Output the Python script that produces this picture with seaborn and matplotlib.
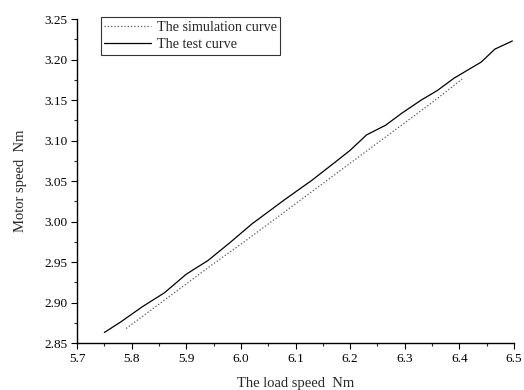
import pandas as pd
import numpy as np
import matplotlib
matplotlib.use('Agg')
import matplotlib.pyplot as plt
import seaborn as sns
from matplotlib.ticker import MultipleLocator, FormatStrFormatter

# data
test_x = [5.75, 5.78, 5.82, 5.86, 5.90, 5.94, 5.98, 6.02, 6.08, 6.13, 6.17, 6.20, 6.23,
          6.265, 6.295, 6.33, 6.36, 6.39, 6.44, 6.465, 6.497]
test_y = [2.863, 2.876, 2.895, 2.912, 2.935, 2.952, 2.974, 2.997, 3.027, 3.051, 3.072, 3.088, 3.107,
          3.119, 3.134, 3.150, 3.162, 3.177, 3.197, 3.213, 3.223]

sim_x = [5.79, 5.85, 5.90, 5.95, 6.00, 6.05, 6.10, 6.15, 6.20, 6.25, 6.30, 6.35, 6.405]
sim_y = [2.868, 2.898, 2.923, 2.948, 2.972, 2.997, 3.022, 3.047, 3.072, 3.097, 3.122, 3.147, 3.176]

sim = pd.DataFrame({'x': sim_x, 'y': sim_y, 'curve': 'The simulation curve'})
test = pd.DataFrame({'x': test_x, 'y': test_y, 'curve': 'The test curve'})

sns.set_style('ticks')
plt.rcParams['font.family'] = ['Liberation Serif', 'DejaVu Serif']
plt.rcParams['xtick.direction'] = 'out'
plt.rcParams['ytick.direction'] = 'out'

fig = plt.figure(figsize=(5.24, 3.90), dpi=100)
ax = fig.add_axes([0.147, 0.1205, 0.834, 0.8305])

sns.lineplot(data=sim, x='x', y='y', ax=ax, color='#555555', linestyle=':', linewidth=0.9,
             label='The simulation curve')
sns.lineplot(data=test, x='x', y='y', ax=ax, color='black', linestyle='-', linewidth=0.9,
             label='The test curve')

ax.set_xlim(5.7, 6.5)
ax.set_ylim(2.85, 3.25)
ax.xaxis.set_major_locator(MultipleLocator(0.1))
ax.xaxis.set_minor_locator(MultipleLocator(0.05))
ax.yaxis.set_major_locator(MultipleLocator(0.05))
ax.yaxis.set_minor_locator(MultipleLocator(0.025))
ax.xaxis.set_major_formatter(FormatStrFormatter('%.1f'))
ax.yaxis.set_major_formatter(FormatStrFormatter('%.2f'))
ax.tick_params(which='major', length=4, width=0.8, labelsize=9.5, colors='black', pad=3)
ax.tick_params(which='minor', length=2.5, width=0.8)
sns.despine(ax=ax)
for s in ['left', 'bottom']:
    ax.spines[s].set_color('black')
    ax.spines[s].set_linewidth(1.0)

ax.set_xlabel('The load speed  Nm', fontsize=10.5, labelpad=9)
ax.set_ylabel('Motor speed  Nm', fontsize=10.5, labelpad=12)

leg = ax.legend(loc='upper left', bbox_to_anchor=(0.054, 1.005), fontsize=10.2, frameon=True,
                fancybox=False, edgecolor='black', borderpad=0.25, labelspacing=0.3,
                handlelength=3.3, handletextpad=0.4, borderaxespad=0)
leg.get_frame().set_linewidth(0.8)

plt.savefig('out.png', dpi=100)
